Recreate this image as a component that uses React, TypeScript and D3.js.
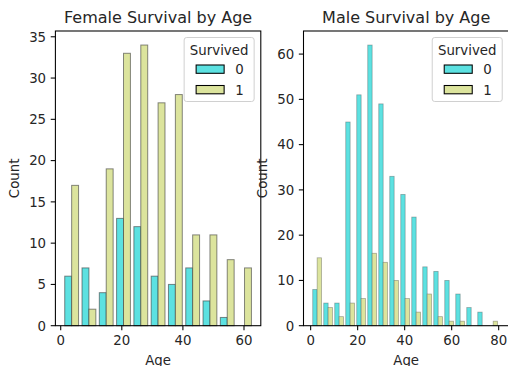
import React from "react";
import * as d3 from "d3";

// Female histogram (11 bins over ages 0.75..63)
const femaleAgeMin = 0.75;
const femaleAgeMax = 63;
const femaleDied = [6, 7, 4, 13, 12, 6, 5, 7, 3, 1, 0];
const femaleSurvived = [17, 2, 19, 33, 34, 27, 28, 11, 11, 8, 7];
const femaleYTicks = [0, 5, 10, 15, 20, 25, 30, 35];
const femaleXTicks = [0, 20, 40, 60];
const femaleXLimits = [-1.74, 65.5];

// Male histogram (17 bins over ages 0.42..80)
const maleAgeMin = 0.42;
const maleAgeMax = 80;
const maleDied = [8, 5, 5, 45, 51, 62, 49, 33, 29, 24, 13, 12, 10, 7, 4, 3, 0];
const maleSurvived = [15, 4, 2, 5, 6, 16, 14, 10, 6, 3, 7, 2, 1, 1, 0, 0, 1];
const maleYTicks = [0, 10, 20, 30, 40, 50, 60];
const maleXTicks = [0, 20, 40, 60, 80];
const maleXLimits = [-3.04, 84.35];

const hueLabels = ["0", "1"];
const hueColors = ["#5ce1e1", "#dce49d"];

const FONT = "DejaVu Sans";
const FS = 13.33;

type PanelProps = {
  title: string;
  ageMin: number;
  ageMax: number;
  died: number[];
  survived: number[];
  yTicks: number[];
  xTicks: number[];
  xLimits: number[];
  left: number;
  right: number;
  edgeWidth: number;
  edgeOpacity: number;
};

function Panel(p: PanelProps) {
  const top = 31;
  const bottom = 325.7;
  const n = p.died.length;
  const bw = (p.ageMax - p.ageMin) / n;
  const shrink = 0.8;
  const x = d3.scaleLinear().domain(p.xLimits).range([p.left, p.right]);
  const ymax = Math.max(d3.max(p.died)!, d3.max(p.survived)!) * 1.05;
  const y = d3.scaleLinear().domain([0, ymax]).range([bottom, top]);
  const series = [p.died, p.survived];
  const bars: JSX.Element[] = [];
  for (let i = 0; i < n; i++) {
    const b0 = p.ageMin + i * bw;
    const s = b0 + bw * (1 - shrink) / 2;
    const w = bw * shrink / 2;
    series.forEach((vals, k) => {
      const v = vals[i];
      if (v <= 0) return;
      const x0 = x(s + k * w);
      const x1 = x(s + (k + 1) * w);
      bars.push(
        <rect
          key={`${i}-${k}`}
          x={x0}
          y={y(v)}
          width={x1 - x0}
          height={y(0) - y(v)}
          fill={hueColors[k]}
          stroke="#3a3a3a"
          strokeOpacity={p.edgeOpacity}
          strokeWidth={p.edgeWidth}
        />
      );
    });
  }
  const cx = (p.left + p.right) / 2;
  const legRight = p.right - 6.67;
  const legLeft = legRight - 70;
  const legTop = 37.5;
  const tl = 4.67;
  return (
    <g fontFamily={FONT}>
      {bars}
      <rect x={p.left} y={top} width={p.right - p.left} height={bottom - top} fill="none" stroke="#000" strokeWidth={1.07} />
      {p.yTicks.map((t) => (
        <g key={"y" + t}>
          <line x1={p.left - tl} x2={p.left} y1={y(t)} y2={y(t)} stroke="#000" strokeWidth={1.07} />
          <text x={p.left - 9.3} y={y(t) + 4.8} fontSize={FS} textAnchor="end" fill="#262626">{t}</text>
        </g>
      ))}
      {p.xTicks.map((t) => (
        <g key={"x" + t}>
          <line x1={x(t)} x2={x(t)} y1={bottom} y2={bottom + tl} stroke="#000" strokeWidth={1.07} />
          <text x={x(t)} y={bottom + 19.5} fontSize={FS} textAnchor="middle" fill="#262626">{t}</text>
        </g>
      ))}
      <text x={cx} y={364.5} fontSize={FS} textAnchor="middle" fill="#262626">Age</text>
      <text transform={`translate(${p.left - 36.3},${(top + bottom) / 2}) rotate(-90)`} fontSize={FS} textAnchor="middle" fill="#262626">Count</text>
      <text x={cx} y={23.3} fontSize={16} textAnchor="middle" fill="#262626">{p.title}</text>
      <rect x={legLeft} y={legTop} width={70} height={64} rx={2.5} fill="#fff" fillOpacity={0.8} stroke="#d0d0d0" strokeWidth={1} />
      <text x={legLeft + 35} y={legTop + 17.3} fontSize={FS} textAnchor="middle" fill="#262626">Survived</text>
      {hueLabels.map((lab, k) => (
        <g key={lab}>
          <rect x={legLeft + 12} y={legTop + 27.5 + k * 20.5} width={28} height={8.3} fill={hueColors[k]} stroke="#000" strokeWidth={1.07} />
          <text x={legLeft + 51} y={legTop + 36.6 + k * 20.5} fontSize={FS} fill="#262626">{lab}</text>
        </g>
      ))}
    </g>
  );
}

export default function App() {
  return (
    <svg width={508} height={366} style={{ position: "absolute", left: 0, top: 0 }}>
      <rect width={508} height={366} fill="#fff" />
      <Panel
        title="Female Survival by Age"
        ageMin={femaleAgeMin}
        ageMax={femaleAgeMax}
        died={femaleDied}
        survived={femaleSurvived}
        yTicks={femaleYTicks}
        xTicks={femaleXTicks}
        xLimits={femaleXLimits}
        left={55.4}
        right={260.8}
        edgeWidth={1}
        edgeOpacity={0.6}
      />
      <Panel
        title="Male Survival by Age"
        ageMin={maleAgeMin}
        ageMax={maleAgeMax}
        died={maleDied}
        survived={maleSurvived}
        yTicks={maleYTicks}
        xTicks={maleXTicks}
        xLimits={maleXLimits}
        left={303.5}
        right={508.9}
        edgeWidth={0.8}
        edgeOpacity={0.4}
      />
    </svg>
  );
}
